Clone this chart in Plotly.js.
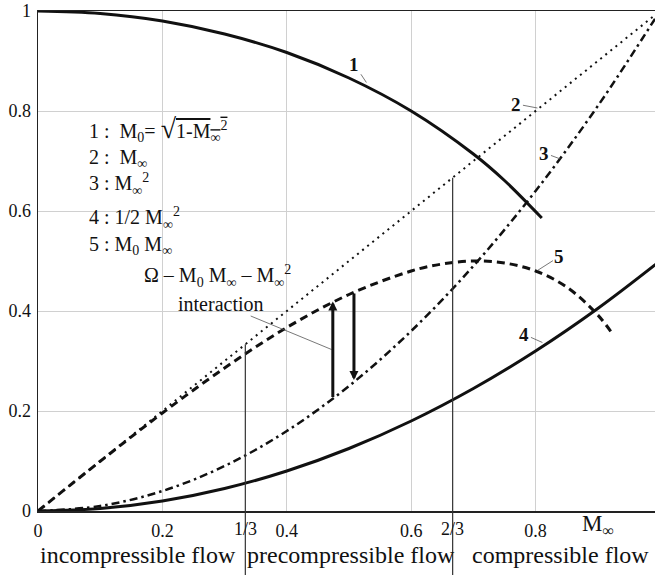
<!DOCTYPE html>
<html>
<head>
<meta charset="utf-8">
<script src="https://cdn.plot.ly/plotly-3.0.1.min.js"></script>
<style>html,body{margin:0;padding:0;background:#fff;}#chart{width:655px;height:575px;}</style>
</head>
<body>
<div id="chart"></div>
<script>
// ---- data ----
const M1 = [0, 0.1, 0.2, 0.3, 0.4, 0.5, 0.6, 0.7, 0.75, 0.81];
const curve1 = [1.0, 0.995, 0.98, 0.954, 0.917, 0.866, 0.8, 0.714, 0.661, 0.586];   // M0 = sqrt(1-M^2)
const M2 = [0, 1];
const curve2 = [0, 1];                                                               // M
const M34 = [0, 0.1, 0.2, 0.3, 0.4, 0.5, 0.6, 0.7, 0.8, 0.9, 1.0];
const curve3 = [0, 0.01, 0.04, 0.09, 0.16, 0.25, 0.36, 0.49, 0.64, 0.81, 1.0];      // M^2
const curve4 = [0, 0.005, 0.02, 0.045, 0.08, 0.125, 0.18, 0.245, 0.32, 0.405, 0.5]; // 1/2 M^2
const M5 = [0, 0.1, 0.2, 0.3, 0.4, 0.5, 0.6, 0.65, 0.7, 0.75, 0.8, 0.85, 0.9, 0.925];
const curve5 = [0, 0.0995, 0.196, 0.286, 0.367, 0.433, 0.48, 0.494, 0.5, 0.496, 0.48, 0.448, 0.392, 0.352]; // M0*M

const xTickVals = [0, 0.2, 0.4, 0.6, 0.8];
const xTickText = ['0', '0.2', '0.4', '0.6', '0.8'];
const dividerX = [1/3, 2/3];
const dividerText = ['1/3', '2/3'];
const yTickVals = [0, 0.2, 0.4, 0.6, 0.8, 1];
const yTickText = ['0', '0.2', '0.4', '0.6', '0.8', '1'];
const regionStart = [0, 1/3, 2/3];
const regionText = ['incompressible flow', 'precompressible flow', 'compressible flow'];

const arrowX = [0.474, 0.508];
const arrowFrom = [0.225, 0.438];
const arrowTo = [0.419, 0.262];

const legendLines = [
  '1 :  M<sub>0</sub>= <span style="font-size:28px">√</span><span style="text-decoration:overline">1-M<sub>∞</sub><sup>2</sup></span>',
  '2 :  M<sub>∞</sub>',
  '3 : M<sub>∞</sub><sup>2</sup>',
  '4 : 1/2 M<sub>∞</sub><sup>2</sup>',
  '5 : M<sub>0</sub> M<sub>∞</sub>'
];

// ---- drawing ----
const FONT = "'Liberation Serif', 'Times New Roman', serif";
const blk = '#111';

const traces = [
  {x: M1, y: curve1, mode: 'lines', line: {color: blk, width: 3, shape: 'spline'}},
  {x: M2, y: curve2, mode: 'lines', line: {color: blk, width: 2, dash: '2px,4.5px'}},
  {x: M34, y: curve3, mode: 'lines', line: {color: blk, width: 2.5, dash: '8px,4px,2.5px,4px', shape: 'spline'}},
  {x: M34, y: curve4, mode: 'lines', line: {color: blk, width: 3, shape: 'spline'}},
  {x: M5, y: curve5, mode: 'lines', line: {color: blk, width: 3, dash: '8px,5px', shape: 'spline'}}
];

const shapes = dividerX.map(v => ({
  type: 'line', xref: 'x', yref: 'paper', x0: v, x1: v, y0: -0.13, y1: v,
  line: {color: '#333', width: 1.2}
}));

const annotations = [];
// 1/3 and 2/3 tick labels
dividerX.forEach((v, i) => annotations.push({
  x: v, xref: 'x', y: -0.036, yref: 'paper', text: dividerText[i], showarrow: false,
  xanchor: 'center', yanchor: 'middle', font: {family: FONT, size: 18, color: blk}
}));
// region labels
regionStart.forEach((v, i) => annotations.push({
  x: v, xref: 'x', y: -0.087, yref: 'paper', text: regionText[i], showarrow: false,
  xanchor: 'left', yanchor: 'middle', xshift: i === 2 ? 17 : 0,
  font: {family: FONT, size: 24, color: blk}
}));
// axis label M∞
annotations.push({x: 0.9, xref: 'x', y: -0.028, yref: 'paper', text: 'M<sub>∞</sub>', showarrow: false,
  xanchor: 'center', yanchor: 'middle', font: {family: FONT, size: 23, color: blk}});
// formula legend
const legY = [0.764, 0.706, 0.654, 0.586, 0.532];
legendLines.forEach((t, i) => annotations.push({
  x: 0.078, xref: 'x', y: legY[i], yref: 'y', text: t, showarrow: false,
  xanchor: 'left', yanchor: 'middle', align: 'left', font: {family: FONT, size: 20, color: blk}
}));
// curve labels with leaders
const labs = [
  {t: '1', x: 0.528, y: 0.857, ax: -12, ay: -18},
  {t: '2', x: 0.803, y: 0.806, ax: -21, ay: -4},
  {t: '3', x: 0.840, y: 0.704, ax: -16, ay: -6},
  {t: '5', x: 0.803, y: 0.481, ax: 22, ay: -14},
  {t: '4', x: 0.811, y: 0.337, ax: -18, ay: -8}
];
labs.forEach(l => annotations.push({
  x: l.x, y: l.y, xref: 'x', yref: 'y', text: '<b>' + l.t + '</b>', showarrow: true,
  arrowhead: 0, arrowwidth: 0.8, arrowcolor: '#555', ax: l.ax, ay: l.ay, standoff: 0,
  font: {family: FONT, size: 19, color: blk}
}));
// Omega text
annotations.push({x: 0.289, xref: 'x', y: 0.47, yref: 'y',
  text: 'Ω – M<sub>0</sub> M<sub>∞</sub> – M<sub>∞</sub><sup>2</sup>', showarrow: false,
  xanchor: 'center', yanchor: 'middle', font: {family: FONT, size: 20, color: blk}});
annotations.push({x: 0.472, xref: 'x', y: 0.323, yref: 'y', text: 'interaction', showarrow: true,
  arrowhead: 0, arrowwidth: 0.8, arrowcolor: '#555', ax: -111, ay: -46, standoff: 0,
  font: {family: FONT, size: 20, color: blk}});
// interaction arrows
arrowX.forEach((xv, i) => annotations.push({
  x: xv, y: arrowTo[i], ax: xv, ay: arrowFrom[i], xref: 'x', yref: 'y', axref: 'x', ayref: 'y',
  text: '', showarrow: true, arrowhead: 2, arrowsize: 0.6, arrowwidth: 3, arrowcolor: blk, standoff: 0
}));

const layout = {
  width: 655, height: 575,
  margin: {l: 38, r: 0, t: 11, b: 64},
  paper_bgcolor: '#fff', plot_bgcolor: '#fff',
  showlegend: false,
  font: {family: FONT, size: 18, color: blk},
  xaxis: {
    range: [0, 0.992], tickvals: xTickVals, ticktext: xTickText,
    showgrid: true, gridcolor: '#d0d0d0', gridwidth: 1, zeroline: false,
    showline: true, linecolor: '#222', linewidth: 1.5, mirror: true,
    ticks: '', ticklabelstandoff: 3, tickfont: {family: FONT, size: 18, color: blk}
  },
  yaxis: {
    range: [0, 1], tickvals: yTickVals, ticktext: yTickText,
    showgrid: true, gridcolor: '#d0d0d0', gridwidth: 1, zeroline: false,
    showline: true, linecolor: '#222', linewidth: 1.5,
    ticks: '', ticklabelstandoff: 2, tickfont: {family: FONT, size: 18, color: blk}
  },
  shapes: shapes,
  annotations: annotations
};

Plotly.newPlot('chart', traces, layout, {displayModeBar: false, staticPlot: true});
</script>
</body>
</html>
